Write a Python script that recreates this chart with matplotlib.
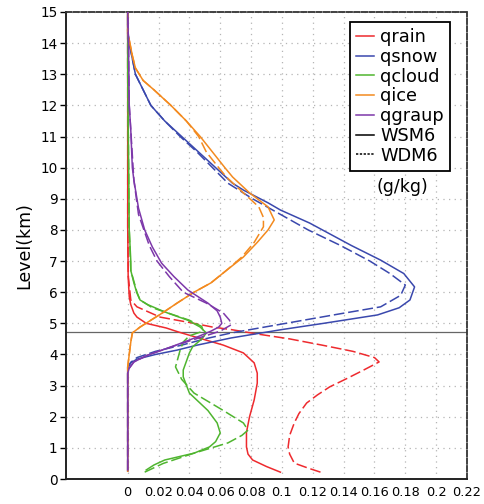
import matplotlib
matplotlib.use("Agg")
import matplotlib.pyplot as plt
from matplotlib.lines import Line2D

# ---------------- data (g/kg vs km) ----------------
rain_wsm_km = [0.22, 0.4, 0.61, 0.8, 1.03, 1.5, 2.0, 2.54, 3.08, 3.4, 3.73, 4.05, 4.3, 4.56, 4.72, 4.85, 5.0, 5.2, 5.33, 5.6, 5.85, 6.5, 8.1, 15.0]
rain_wsm = [0.099, 0.090, 0.081, 0.078, 0.077, 0.077, 0.079, 0.082, 0.084, 0.084, 0.082, 0.075, 0.062, 0.044, 0.033, 0.025, 0.012, 0.006, 0.004, 0.002, 0.001, 0.0003, 0.0, 0.0]
rain_wdm_km = [0.22, 0.35, 0.51, 0.8, 1.03, 1.4, 1.8, 2.1, 2.44, 2.7, 2.96, 3.2, 3.5, 3.76, 3.9, 4.1, 4.3, 4.5, 4.65, 4.8, 4.88, 5.0, 5.2, 5.53, 5.75, 6.5, 8.1, 15.0]
rain_wdm = [0.125, 0.117, 0.108, 0.105, 0.104, 0.105, 0.108, 0.111, 0.116, 0.123, 0.131, 0.141, 0.153, 0.163, 0.160, 0.146, 0.126, 0.105, 0.085, 0.067, 0.055, 0.043, 0.021, 0.006, 0.002, 0.0004, 0.0, 0.0]

snow_wsm_km = [0.25, 3.5, 3.6, 3.73, 3.85, 4.0, 4.14, 4.3, 4.53, 4.8, 5.0, 5.27, 5.5, 5.75, 6.17, 6.6, 7.03, 7.5, 8.22, 8.64, 8.87, 9.28, 9.5, 10.0, 10.5, 11.0, 11.5, 12.0, 12.5, 13.0, 13.5, 14.0, 14.4, 15.0]
snow_wsm = [0.0, 0.0, 0.0005, 0.002, 0.006, 0.018, 0.032, 0.045, 0.067, 0.100, 0.127, 0.162, 0.176, 0.183, 0.186, 0.179, 0.164, 0.145, 0.118, 0.099, 0.091, 0.075, 0.068, 0.057, 0.046, 0.035, 0.024, 0.015, 0.010, 0.005, 0.003, 0.001, 0.0, 0.0]
snow_wdm_km = [0.25, 3.6, 3.75, 3.9, 4.1, 4.3, 4.5, 4.69, 4.9, 5.1, 5.3, 5.53, 5.9, 6.23, 6.6, 7.0, 7.5, 8.0, 8.5, 9.0, 9.5, 10.0, 10.5, 11.0, 11.5, 12.0, 12.5, 13.0, 13.5, 14.0, 14.4, 15.0]
snow_wdm = [0.0, 0.0, 0.002, 0.006, 0.018, 0.035, 0.050, 0.067, 0.091, 0.114, 0.137, 0.164, 0.177, 0.180, 0.170, 0.157, 0.138, 0.117, 0.099, 0.081, 0.065, 0.055, 0.045, 0.034, 0.024, 0.015, 0.010, 0.005, 0.003, 0.001, 0.0, 0.0]

cloud_wsm_km = [0.29, 0.45, 0.61, 0.83, 1.03, 1.2, 1.48, 1.8, 2.2, 2.76, 3.28, 3.5, 4.05, 4.24, 4.5, 4.69, 4.88, 5.1, 5.33, 5.43, 5.6, 5.75, 5.97, 6.3, 6.7, 7.0, 8.0, 13.0, 15.0]
cloud_wsm = [0.012, 0.017, 0.024, 0.043, 0.053, 0.057, 0.060, 0.058, 0.052, 0.040, 0.036, 0.036, 0.040, 0.042, 0.048, 0.051, 0.047, 0.039, 0.026, 0.021, 0.013, 0.008, 0.006, 0.004, 0.002, 0.002, 0.001, 0.0, 0.0]
cloud_wdm_km = [0.22, 0.5, 0.83, 1.16, 1.4, 1.57, 1.8, 2.2, 2.76, 3.2, 3.6, 4.14, 4.4, 4.6, 4.75, 4.9, 5.1, 5.3, 5.5, 5.75, 6.0, 6.7, 8.0, 13.0, 15.0]
cloud_wdm = [0.011, 0.023, 0.043, 0.065, 0.074, 0.078, 0.075, 0.062, 0.043, 0.035, 0.031, 0.034, 0.036, 0.040, 0.049, 0.048, 0.040, 0.028, 0.016, 0.008, 0.006, 0.002, 0.001, 0.0, 0.0]

ice_wsm_km = [0.25, 3.5, 3.6, 4.0, 4.4, 4.69, 4.88, 5.1, 5.35, 5.65, 6.0, 6.3, 6.7, 7.13, 7.6, 8.0, 8.32, 8.74, 9.19, 9.7, 10.0, 10.5, 11.0, 11.5, 12.0, 12.5, 12.8, 13.2, 13.6, 14.1, 14.3, 15.0]
ice_wsm = [0.0, 0.0, 0.0, 0.001, 0.002, 0.003, 0.008, 0.015, 0.023, 0.032, 0.043, 0.054, 0.064, 0.075, 0.084, 0.091, 0.095, 0.091, 0.079, 0.068, 0.063, 0.055, 0.047, 0.038, 0.028, 0.017, 0.010, 0.005, 0.003, 0.001, 0.0, 0.0]
ice_wdm_km = [0.25, 3.5, 3.6, 4.0, 4.4, 4.69, 4.88, 5.1, 5.35, 5.65, 6.0, 6.3, 6.7, 7.13, 7.6, 8.1, 8.4, 8.74, 9.19, 9.7, 10.0, 10.5, 11.0, 11.5, 12.0, 12.5, 12.8, 13.2, 13.6, 14.1, 14.3, 15.0]
ice_wdm = [0.0, 0.0, 0.0, 0.001, 0.002, 0.003, 0.008, 0.015, 0.023, 0.032, 0.043, 0.054, 0.064, 0.074, 0.082, 0.088, 0.088, 0.085, 0.075, 0.064, 0.059, 0.051, 0.046, 0.038, 0.028, 0.017, 0.010, 0.005, 0.003, 0.001, 0.0, 0.0]

graup_wsm_km = [0.29, 3.4, 3.56, 3.76, 3.98, 4.24, 4.56, 4.75, 4.88, 5.0, 5.2, 5.4, 5.65, 6.07, 6.5, 6.93, 7.45, 8.0, 8.7, 9.6, 10.0, 11.2, 12.0, 14.0, 15.0]
graup_wsm = [0.0, 0.0, 0.001, 0.004, 0.013, 0.028, 0.045, 0.054, 0.059, 0.061, 0.060, 0.058, 0.052, 0.039, 0.030, 0.022, 0.016, 0.011, 0.007, 0.004, 0.003, 0.002, 0.001, 0.0005, 0.0]
graup_wdm_km = [0.29, 3.4, 3.56, 3.76, 3.98, 4.24, 4.56, 4.75, 4.95, 5.1, 5.33, 5.65, 6.0, 6.5, 7.0, 7.5, 8.5, 9.6, 11.2, 12.0, 14.0, 15.0]
graup_wdm = [0.0, 0.0, 0.001, 0.004, 0.013, 0.028, 0.048, 0.060, 0.067, 0.066, 0.062, 0.051, 0.036, 0.027, 0.019, 0.014, 0.007, 0.004, 0.002, 0.001, 0.0005, 0.0]

species = ["qrain", "qsnow", "qcloud", "qice", "qgraup"]
colors = ["#ee2a2e", "#3a48ad", "#4fb52f", "#f38a1f", "#7d38aa"]
schemes = ["WSM6", "WDM6"]
x_ticks = [0, 0.02, 0.04, 0.06, 0.08, 0.1, 0.12, 0.14, 0.16, 0.18, 0.2, 0.22]
x_ticklabels = ["0", "0.02", "0.04", "0.06", "0.08", "0.1", "0.12", "0.14", "0.16", "0.18", "0.2", "0.22"]
y_ticks = list(range(0, 16))
melt_level = 4.73
unit_label = "(g/kg)"

# ---------------- plot ----------------
fig = plt.figure(figsize=(4.84, 5.04), dpi=100)
ax = fig.add_axes([0.1364, 0.0496, 0.8285, 0.9266])

series = [
    (rain_wsm_km, rain_wsm, rain_wdm_km, rain_wdm),
    (snow_wsm_km, snow_wsm, snow_wdm_km, snow_wdm),
    (cloud_wsm_km, cloud_wsm, cloud_wdm_km, cloud_wdm),
    (ice_wsm_km, ice_wsm, ice_wdm_km, ice_wdm),
    (graup_wsm_km, graup_wsm, graup_wdm_km, graup_wdm),
]
for (k1, v1, k2, v2), c in zip(series, colors):
    ax.plot(v2, k2, color=c, lw=1.1, dashes=(7, 2.5), zorder=3)
    ax.plot(v1, k1, color=c, lw=1.1, zorder=3)

ax.axhline(melt_level, color="#666666", lw=0.9, zorder=2)

ax.set_xlim(-0.04, 0.22)
ax.set_ylim(0, 15)
ax.set_xticks(x_ticks)
ax.set_xticklabels(x_ticklabels)
ax.set_yticks(y_ticks)
ax.tick_params(axis="x", length=0, pad=5, labelsize=9.3)
ax.tick_params(axis="y", length=4, width=1.0, pad=2, labelsize=9.8)
ax.grid(True, color="#b5b5b5", linestyle=(0, (1, 3.5)), lw=0.9)
ax.set_ylabel("Level(km)", fontsize=12.5, labelpad=5)

for s in ["left", "bottom"]:
    ax.spines[s].set_linewidth(1.4)
    ax.spines[s].set_color("#222222")
for s in ["top", "right"]:
    ax.spines[s].set_linewidth(1.3)
    ax.spines[s].set_color("#333333")
    ax.spines[s].set_linestyle((0, (3, 1.2)))

handles = [Line2D([0], [0], color=c, lw=1.1) for c in colors]
handles.append(Line2D([0], [0], color="black", lw=1.1))
handles.append(Line2D([0], [0], color="black", lw=1.1, dashes=(1.5, 1)))
labels = species + schemes
leg = ax.legend(handles, labels, loc="upper left", bbox_to_anchor=(0.708, 0.979),
                borderaxespad=0, fontsize=12.8, labelspacing=0.1, handlelength=1.0,
                handletextpad=0.35, borderpad=0.35, fancybox=False, framealpha=1,
                edgecolor="black")
leg.get_frame().set_linewidth(1.3)
ax.text(0.838, 0.625, unit_label, transform=ax.transAxes, ha="center", va="center", fontsize=12.5)

fig.savefig("out.png", dpi=100)
